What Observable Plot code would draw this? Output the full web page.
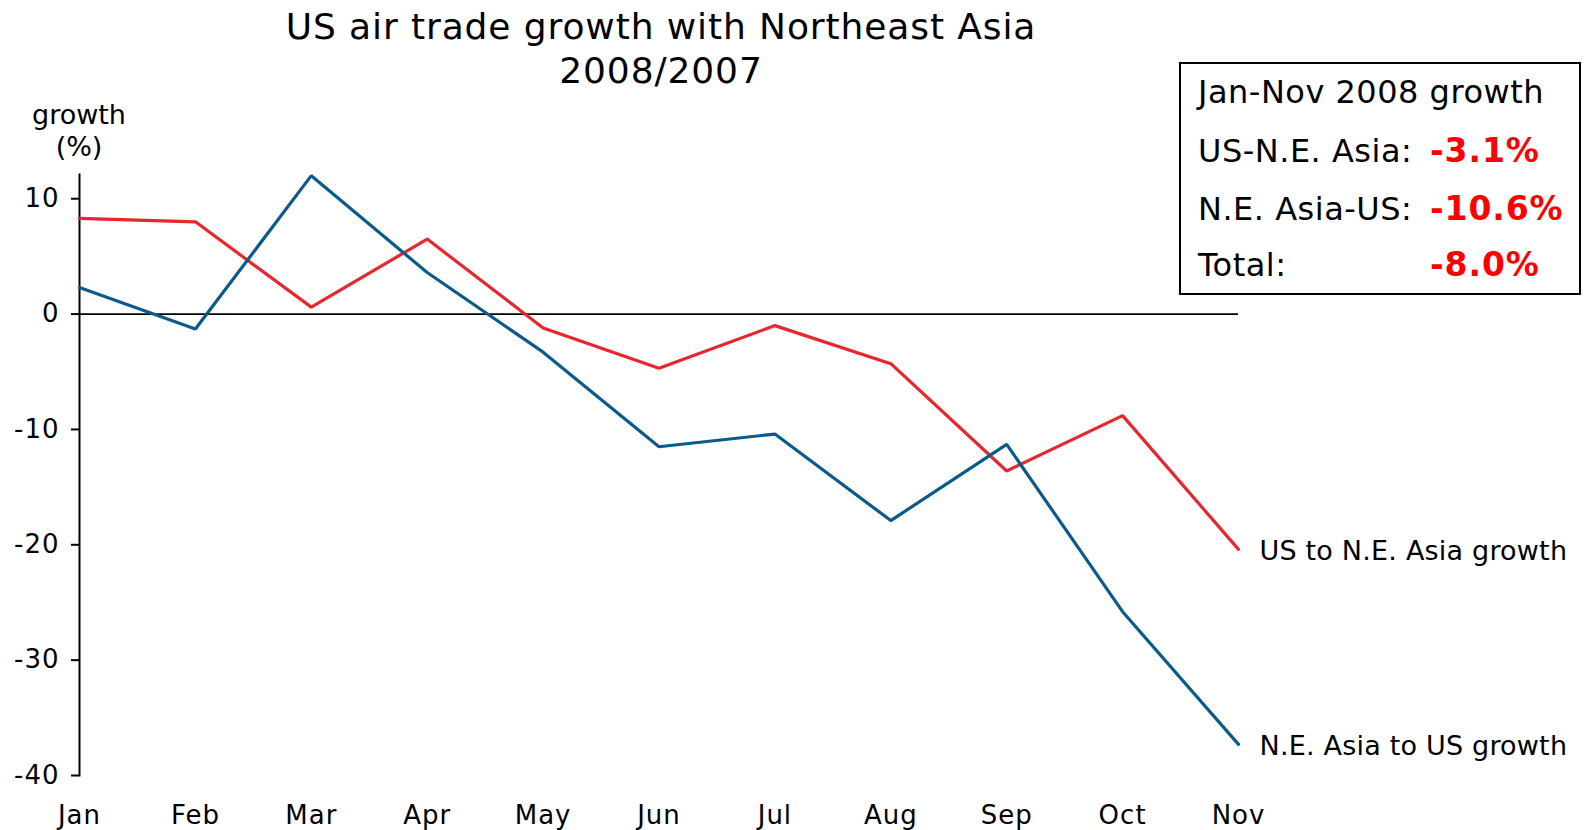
<!DOCTYPE html>
<html>
<head>
<meta charset="utf-8">
<script src="https://cdn.jsdelivr.net/npm/d3@7"></script>
<script src="https://cdn.jsdelivr.net/npm/@observablehq/plot@0.6"></script>
<style>
  html, body { margin: 0; padding: 0; background: #fff; }
  body { font-family: "DejaVu Sans", Verdana, sans-serif; color: #000; }
  #wrap { position: relative; width: 1589px; height: 830px; overflow: hidden; }
  #wrap svg { position: absolute; left: 0; top: 0; }
  #wrap svg g[aria-label="y-axis tick label"] text,
  #wrap svg g[aria-label="x-axis tick label"] text { letter-spacing: 1px; }
  #wrap svg g[aria-label="text"] text { letter-spacing: 0.2px; }
  .title { position: absolute; left: 0; width: 1322px; text-align: center; font-size: 36px; letter-spacing: 0.9px; line-height: 44px; top: 4.5px; }
  .ylab { position: absolute; left: 18px; width: 122px; text-align: center; font-size: 27px; line-height: 32px; top: 99px; }
  .box { position: absolute; left: 1179px; top: 62px; width: 402px; height: 233px; border: 2.5px solid #000; box-sizing: border-box; font-size: 32px; letter-spacing: 0.5px; }
  .row { position: absolute; left: 17px; white-space: nowrap; }
  .val { position: absolute; left: 249px; color: #ff0000; font-weight: bold; font-size: 33px; letter-spacing: 0.9px; white-space: nowrap; margin-top: -1px; }
</style>
</head>
<body>
<div id="wrap"></div>
<script>
const months = ["Jan","Feb","Mar","Apr","May","Jun","Jul","Aug","Sep","Oct","Nov"];
const usToNEAsia = [8.3, 8.0, 0.6, 6.5, -1.2, -4.7, -1.0, -4.3, -13.6, -8.8, -20.4];
const neAsiaToUS = [2.3, -1.3, 12.0, 3.6, -3.3, -11.5, -10.4, -17.9, -11.3, -25.8, -37.3];
const seriesNames = ["US to N.E. Asia growth", "N.E. Asia to US growth"];
const seriesColors = ["#e8262d", "#0b5a8c"];
const yTicks = [-40, -30, -20, -10, 0, 10];
const titleLines = ["US air trade growth with Northeast Asia", "2008/2007"];
const yLabelLines = ["growth", "(%)"];
const boxTitle = "Jan-Nov 2008 growth";
const boxLabels = ["US-N.E. Asia:", "N.E. Asia-US:", "Total:"];
const boxValues = ["-3.1%", "-10.6%", "-8.0%"];

const data = [];
[usToNEAsia, neAsiaToUS].forEach((vals, s) => {
  vals.forEach((v, i) => data.push({series: seriesNames[s], month: months[i], value: v}));
});
const lastPoints = seriesNames.map((name, s) => ({series: name, month: months[months.length - 1], value: [usToNEAsia, neAsiaToUS][s][months.length - 1]}));

const chart = Plot.plot({
  width: 1589,
  height: 830,
  marginLeft: 79,
  marginRight: 351,
  marginTop: 174,
  marginBottom: 55,
  style: {fontFamily: "'DejaVu Sans', Verdana, sans-serif", fontSize: "26px", color: "#000", background: "transparent", overflow: "visible"},
  x: {type: "point", domain: months, padding: 0, round: false},
  y: {domain: [-40, 12.1]},
  color: {domain: seriesNames, range: seriesColors},
  marks: [
    Plot.frame({anchor: "left", stroke: "#000", strokeWidth: 2}),
    Plot.axisY({ticks: yTicks, tickSize: 8, tickPadding: 12, tickFormat: d => String(d), label: null, fontSize: 26, strokeWidth: 2}),
    Plot.axisX({tickSize: 0, tickPadding: 30, label: null, fontSize: 26}),
    Plot.ruleY([0], {stroke: "#000", strokeWidth: 1.6}),
    Plot.line(data, {x: "month", y: "value", z: "series", stroke: "series", strokeWidth: 3.2, strokeLinejoin: "miter"}),
    Plot.text(lastPoints, {x: "month", y: "value", text: "series", textAnchor: "start", dx: 21, dy: 2, fontSize: 27, fill: "#000"})
  ]
});

const wrap = document.getElementById("wrap");
wrap.appendChild(chart);

const t = document.createElement("div");
t.className = "title";
t.innerHTML = titleLines.join("<br>");
wrap.appendChild(t);

const yl = document.createElement("div");
yl.className = "ylab";
yl.innerHTML = yLabelLines.join("<br>");
wrap.appendChild(yl);

const box = document.createElement("div");
box.className = "box";
const rowTops = [9, 68, 126, 182];
const r0 = document.createElement("div");
r0.className = "row"; r0.style.top = rowTops[0] + "px"; r0.textContent = boxTitle;
box.appendChild(r0);
boxLabels.forEach((lab, i) => {
  const r = document.createElement("div");
  r.className = "row"; r.style.top = rowTops[i + 1] + "px"; r.textContent = lab;
  box.appendChild(r);
  const v = document.createElement("div");
  v.className = "val"; v.style.top = rowTops[i + 1] + "px"; v.textContent = boxValues[i];
  box.appendChild(v);
});
wrap.appendChild(box);
</script>
</body>
</html>
